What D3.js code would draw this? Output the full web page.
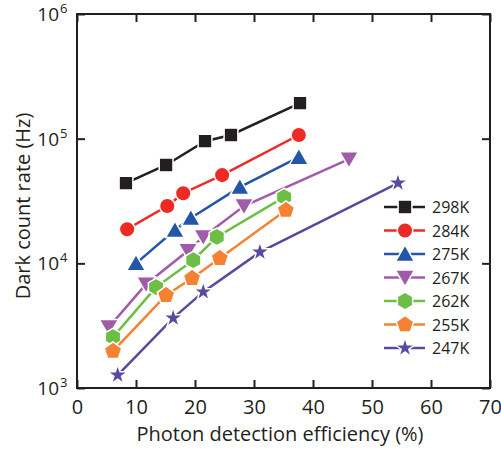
<!DOCTYPE html>
<html lang="en">

<head>
    <meta charset="UTF-8">
    <title>Dark count rate vs PDE</title>
    <script src="https://cdnjs.cloudflare.com/ajax/libs/d3/7.9.0/d3.min.js"></script>
    <style>
        body { margin: 0; background: #fff; }
        text { font-family: "Open Sans", "Noto Sans", sans-serif; fill: #231f20; }
    </style>
</head>

<body>
    <svg width="501" height="449"></svg>

    <script>
        // Data: photon detection efficiency (%) and dark count rate (Hz)
        let seriesNames = ["298K", "284K", "275K", "267K", "262K", "255K", "247K"];
        let seriesColors = ["#231f20", "#ee2a24", "#2356a6", "#a05ca8", "#6dbe45", "#f58233", "#574a9f"];
        let seriesShapes = ["square", "circle", "triangle", "triangleDown", "hexagon", "pentagon", "star"];

        let pde298 = [8.3, 15.1, 21.7, 26.1, 37.8];
        let dcr298 = [44000, 61500, 95500, 107000, 193000];
        let pde284 = [8.5, 15.3, 18.0, 24.6, 37.6];
        let dcr284 = [18800, 28800, 36500, 51000, 107000];
        let pde275 = [10.0, 16.6, 19.3, 27.6, 37.6];
        let dcr275 = [10000, 18500, 23100, 40900, 71000];
        let pde267 = [5.4, 11.7, 18.8, 21.4, 28.3, 46.1];
        let dcr267 = [3080, 6800, 12600, 16300, 28800, 68500];
        let pde262 = [6.1, 13.4, 19.7, 23.7, 35.1];
        let dcr262 = [2560, 6450, 10600, 16300, 34000];
        let pde255 = [6.1, 15.1, 19.5, 24.2, 35.4];
        let dcr255 = [1980, 5550, 7600, 11000, 26700];
        let pde247 = [6.9, 16.3, 21.4, 31.0, 54.4];
        let dcr247 = [1270, 3640, 5900, 12300, 44000];

        let pdeValues = [pde298, pde284, pde275, pde267, pde262, pde255, pde247];
        let dcrValues = [dcr298, dcr284, dcr275, dcr267, dcr262, dcr255, dcr247];

        let xTicks = [0, 10, 20, 30, 40, 50, 60, 70];
        let yTicks = [1e3, 1e4, 1e5, 1e6];
        let yTickExponents = ["3", "4", "5", "6"];

        let svg = d3.select("svg");

        // plot frame
        let plotLeft = 77, plotRight = 490, plotTop = 14, plotBottom = 388;

        let xScale = d3.scaleLinear().domain([0, 70]).range([plotLeft, plotRight]);
        let yScale = d3.scaleLog().domain([1e3, 1e6]).range([plotBottom, plotTop]);

        // custom marker shapes (size = radius squared)
        function polygon(n, rot) {
            return {
                draw(context, size) {
                    let r = Math.sqrt(size);
                    for (let i = 0; i < n; i++) {
                        let a = rot + i * 2 * Math.PI / n;
                        let px = r * Math.sin(a), py = -r * Math.cos(a);
                        if (i === 0) context.moveTo(px, py); else context.lineTo(px, py);
                    }
                    context.closePath();
                }
            };
        }

        let shapeSymbol = {
            square: d3.symbol().type(d3.symbolSquare).size(190),
            circle: d3.symbol().type(d3.symbolCircle).size(190),
            triangle: d3.symbol().type(polygon(3, 0)).size(121),
            triangleDown: d3.symbol().type(polygon(3, Math.PI)).size(121),
            hexagon: d3.symbol().type(polygon(6, 0)).size(78),
            pentagon: d3.symbol().type(polygon(5, 0)).size(85),
            star: d3.symbol().type(d3.symbolStar).size(125)
        };
        // triangles sit a bit off their centroid
        let shapeOffset = { triangle: 2, triangleDown: -2 };

        let line = d3.line().x(d => xScale(d[0])).y(d => yScale(d[1]));

        seriesNames.forEach((name, i) => {
            let pts = pdeValues[i].map((p, j) => [p, dcrValues[i][j]]);
            let g = svg.append("g");

            g.append("path")
                .attr("d", line(pts))
                .attr("fill", "none")
                .attr("stroke", seriesColors[i])
                .attr("stroke-width", 2.5);

            g.selectAll("path.m")
                .data(pts)
                .enter()
                .append("path")
                .attr("class", "m")
                .attr("d", shapeSymbol[seriesShapes[i]])
                .attr("transform", d => "translate(" + xScale(d[0]) + "," + (yScale(d[1]) + (shapeOffset[seriesShapes[i]] || 0)) + ")")
                .attr("fill", seriesColors[i])
                .attr("stroke", "#fff")
                .attr("stroke-width", 1.5);
        });

        // axes: ticks pointing inward on all four sides
        let frame = "#231f20";
        svg.append("g")
            .attr("transform", "translate(0," + plotBottom + ")")
            .call(d3.axisBottom(xScale).tickValues(xTicks).tickSizeInner(-8).tickSizeOuter(0).tickPadding(12).tickFormat(d3.format("d")))
            .call(g => g.select(".domain").remove())
            .call(g => g.selectAll("line").attr("stroke", frame).attr("stroke-width", 2))
            .call(g => g.selectAll("text").attr("font-size", "20px").attr("font-family", null).attr("fill", frame));

        svg.append("g")
            .attr("transform", "translate(0," + plotTop + ")")
            .call(d3.axisTop(xScale).tickValues(xTicks).tickSizeInner(-8).tickSizeOuter(0).tickFormat(""))
            .call(g => g.select(".domain").remove())
            .call(g => g.selectAll("line").attr("stroke", frame).attr("stroke-width", 2));

        svg.append("g")
            .attr("transform", "translate(" + plotLeft + ",0)")
            .call(d3.axisLeft(yScale).tickValues(yTicks).tickSizeInner(-8).tickSizeOuter(0).tickFormat(""))
            .call(g => g.select(".domain").remove())
            .call(g => g.selectAll("line").attr("stroke", frame).attr("stroke-width", 2));

        svg.append("g")
            .attr("transform", "translate(" + plotRight + ",0)")
            .call(d3.axisRight(yScale).tickValues(yTicks).tickSizeInner(-8).tickSizeOuter(0).tickFormat(""))
            .call(g => g.select(".domain").remove())
            .call(g => g.selectAll("line").attr("stroke", frame).attr("stroke-width", 2));

        // y tick labels as 10 with a superscript exponent
        yTicks.forEach((t, i) => {
            let y = yScale(t);
            svg.append("text")
                .attr("x", 59)
                .attr("y", y + 7)
                .attr("text-anchor", "end")
                .attr("font-size", "19px")
                .text("10");
            svg.append("text")
                .attr("x", 60)
                .attr("y", y - 1)
                .attr("font-size", "13px")
                .text(yTickExponents[i]);
        });

        // frame
        svg.append("rect")
            .attr("x", plotLeft)
            .attr("y", plotTop)
            .attr("width", plotRight - plotLeft)
            .attr("height", plotBottom - plotTop)
            .attr("fill", "none")
            .attr("stroke", frame)
            .attr("stroke-width", 2);

        // axis titles
        svg.append("text")
            .attr("x", 280)
            .attr("y", 441)
            .attr("text-anchor", "middle")
            .attr("font-size", "20px")
            .text("Photon detection efficiency (%)");

        svg.append("text")
            .attr("transform", "translate(30,206) rotate(-90)")
            .attr("text-anchor", "middle")
            .attr("font-size", "20px")
            .text("Dark count rate (Hz)");

        // legend
        seriesNames.forEach((name, i) => {
            let ly = 207 + i * 23.5;
            let g = svg.append("g");
            g.append("line")
                .attr("x1", 384).attr("x2", 425)
                .attr("y1", ly).attr("y2", ly)
                .attr("stroke", seriesColors[i])
                .attr("stroke-width", 2.5);
            g.append("path")
                .attr("d", shapeSymbol[seriesShapes[i]])
                .attr("transform", "translate(405," + (ly + (shapeOffset[seriesShapes[i]] || 0)) + ")")
                .attr("fill", seriesColors[i])
                .attr("stroke", "#fff")
                .attr("stroke-width", 1.5);
            g.append("text")
                .attr("x", 432)
                .attr("y", ly + 6)
                .attr("font-size", "16px")
                .text(name);
        });
    </script>
</body>

</html>
